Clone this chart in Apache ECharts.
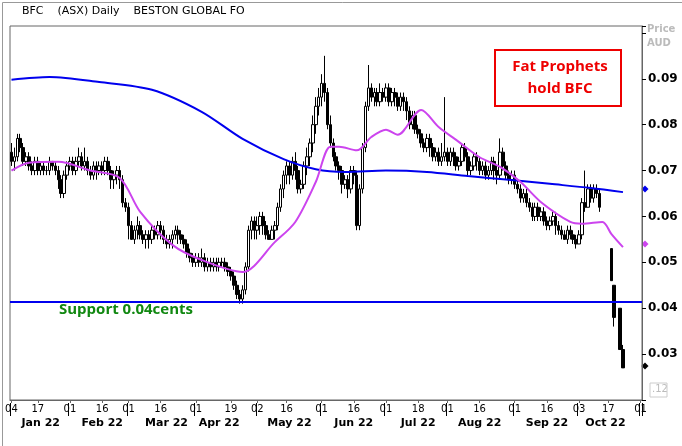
<!DOCTYPE html>
<html><head><meta charset="utf-8">
<script src="https://cdn.jsdelivr.net/npm/echarts@6/dist/echarts.min.js"></script>
<style>html,body{margin:0;padding:0;background:#fff}#c{width:682px;height:446px}</style>
</head><body><div id="c"></div>
<script>
// Daily bars [open, close, low, high] in thousandths of AUD; null = no trading
const bars = [
[74,72,71,76],[72,73,70,75],[73,77,72,78],[77,75,74,78],[75,72,71,76],[72,73,71,74],[73,71,70,74],[71,70,69,72],[70,72,69,73],[72,70,69,73],
[70,71,69,72],[71,70,69,72],[70,70,69,71],[70,72,69,73],[72,71,70,72],[71,70,69,72],[70,68,66,71],[68,65,64,69],[65,69,64,70],[69,71,68,72],
[71,72,70,73],[72,70,69,73],[70,72,69,73],[72,73,71,75],[73,71,70,74],[71,72,70,75],[72,70,69,73],[70,69,68,71],[69,71,68,72],[71,70,68,72],
[70,71,69,72],[71,70,69,72],[70,72,69,73],[72,70,69,73],[70,68,66,71],[68,69,66,70],[69,70,67,71],[70,68,66,71],[68,63,62,69],[63,62,61,64],
[62,58,55,63],[58,55,55,59],[55,57,54,58],[57,58,55,60],[58,56,55,59],[56,55,54,57],[55,56,53,57],[56,55,53,57],[55,57,54,58],[57,56,55,58],
[56,58,55,59],[58,57,55,59],[57,55,54,58],[55,54,53,56],[54,55,53,56],[55,56,53,57],[56,57,55,58],[57,56,54,58],[56,55,54,57],[55,54,53,56],
[54,52,51,55],[52,51,50,53],[51,50,49,52],[50,51,49,52],[51,50,49,52],[50,51,49,53],[51,49,48,52],[49,50,48,51],[50,49,48,51],[49,50,48,51],
[50,49,48,51],[49,50,48,51],[50,50,49,51],[50,49,48,51],[49,48,47,50],[48,47,46,49],[47,45,44,48],[45,43,42,46],[43,42,41,44],[42,44,41,45],
[44,49,43,50],[49,57,48,58],[57,59,55,60],[59,57,55,60],[57,58,55,60],[58,60,56,61],[60,58,56,61],[58,56,55,59],[56,55,55,57],[55,57,55,58],
[57,58,55,59],[58,62,57,63],[62,66,61,67],[66,69,64,70],[69,71,67,72],[71,69,67,72],[69,72,68,73],[72,70,68,74],[70,66,65,71],[66,67,65,68],
[67,71,66,72],[71,73,69,75],[73,76,71,77],[76,80,74,82],[80,84,78,86],[84,86,82,88],[86,89,84,91],[89,87,85,95],[87,80,79,88],[80,76,75,82],
[76,73,72,77],[73,71,70,74],[71,70,68,72],[70,67,65,71],[67,68,66,69],[68,66,64,69],[66,70,65,71],[70,69,67,71],[69,58,57,70],[58,66,57,67],
[66,75,65,76],[75,84,74,85],[84,88,83,93],[88,86,85,89],[86,87,84,88],[87,85,84,88],[85,87,84,89],[87,86,85,88],[86,88,85,89],[88,85,84,89],
[85,87,84,88],[87,86,84,88],[86,84,83,87],[84,86,83,87],[86,85,83,87],[85,83,81,86],[83,80,79,84],[80,82,79,83],[82,79,78,83],[79,78,77,80],
[78,76,75,79],[76,75,74,77],[75,77,74,78],[77,75,73,78],[75,73,72,76],[73,74,72,75],[74,72,71,75],[72,73,71,76],[73,74,72,86],[74,72,71,75],
[72,74,71,75],[74,73,71,75],[73,71,70,74],[71,72,70,73],[72,75,71,76],[75,73,72,76],[73,70,69,74],[70,71,69,72],[71,73,70,74],[73,72,70,74],
[72,70,69,73],[70,71,69,72],[71,69,68,72],[69,70,68,71],[70,72,69,73],[72,70,68,73],[70,69,67,71],[69,74,68,77],[74,71,70,75],[71,69,68,72],
[69,68,67,70],[68,69,67,70],[69,67,66,70],[67,66,65,68],[66,64,63,67],[64,65,63,66],[65,63,62,66],[63,62,61,64],[62,60,59,63],[60,62,59,63],
[62,60,59,63],[60,61,59,62],[61,59,58,62],[59,58,57,60],[58,59,57,60],[59,60,58,61],[60,58,56,61],[58,57,56,59],[57,56,55,58],[56,55,55,57],
[55,57,54,58],[57,56,55,58],[56,55,54,57],[55,54,53,56],[54,56,54,57],[56,63,55,64],[63,62,61,70],[62,66,62,67],[66,64,63,67],[64,66,63,67],
[66,65,64,67],[65,62,61,66],null,null,null,[53,46,46,53],[45,38,36,45],null,[40,31,31,40],[31,27,27,32]
];
// Moving averages: [day index, value in thousandths]
const maLong = [[0,89.8],[13,90.4],[30,89.3],[48,87.6],[65,82.8],[79,76.9],[93,72.5],[104,70.3],[114,69.7],[128,70.0],[142,69.7],[156,68.8],[170,68.0],[184,67.1],[198,66.2],[209,65.3]];
const maShort = [[0,70.0],[6,71.7],[16,71.9],[27,70.0],[37,68.4],[44,61.0],[55,53.8],[65,50.5],[79,47.9],[90,54.4],[97,58.8],[104,67.5],[109,75.2],[112,75.2],[118,74.4],[123,77.3],[128,78.9],[132,77.8],[140,83.2],[146,79.5],[153,76.2],[160,72.9],[167,70.8],[174,67.5],[181,63.1],[191,58.8],[195,58.4],[202,58.8],[205,56.2],[209,53.3]];
const supportLevel = 0.0415;
const dayTickDates = ['2022-01-04','2022-01-17','2022-02-01','2022-02-16','2022-03-01','2022-03-16','2022-04-01','2022-04-19','2022-05-02','2022-05-16','2022-06-01','2022-06-16','2022-07-01','2022-07-18','2022-08-01','2022-08-16','2022-09-01','2022-09-16','2022-10-03','2022-10-17','2022-11-01'];
const monthLabelDates = {'2022-01-18':'Jan 22','2022-02-16':'Feb 22','2022-03-18':'Mar 22','2022-04-13':'Apr 22','2022-05-17':'May 22','2022-06-16':'Jun 22','2022-07-18':'Jul 22','2022-08-16':'Aug 22','2022-09-16':'Sep 22','2022-10-14':'Oct 22'};

// weekday category list Jan 4 - Nov 1 2022
const days = [];
for (let d = new Date(Date.UTC(2022,0,4)); d <= new Date(Date.UTC(2022,10,1)); d.setUTCDate(d.getUTCDate()+1)) {
  const w = d.getUTCDay(); if (w===0||w===6) continue;
  days.push(d.toISOString().slice(0,10));
}
const monthStart = new Set();
for (let i=0;i<days.length;i++){ if(i===0||days[i].slice(5,7)!==days[i-1].slice(5,7)) monthStart.add(i); }

const k = bars.map(b => b ? b.map(v=>v/1000) : '-');
const toLine = a => a.map(p=>[days[p[0]], p[1]/1000]);

const chart = echarts.init(document.getElementById('c'));
const F = 'DejaVu Sans';
chart.setOption({
  animation:false,
  textStyle:{fontFamily:F},
  grid:{left:10,right:40,top:26,bottom:46,show:true,borderColor:'#666',borderWidth:1},
  xAxis:[{
    type:'category',data:days,boundaryGap:true,
    axisLine:{lineStyle:{color:'#666'}},
    axisTick:{show:true,alignWithLabel:true,length:3,interval:(i,v)=>dayTickDates.includes(v),lineStyle:{color:'#666'}},
    axisLabel:{interval:(i,v)=>dayTickDates.includes(v),formatter:v=>v.slice(8),fontSize:10,color:'#000',margin:4}
  },{
    type:'category',data:days,position:'bottom',offset:16,boundaryGap:true,
    axisLine:{show:false},
    axisTick:{show:true,inside:true,length:13,interval:i=>monthStart.has(i),lineStyle:{color:'#000'}},
    axisLabel:{interval:(i,v)=>v in monthLabelDates,formatter:v=>monthLabelDates[v]||'',fontSize:11,fontWeight:'bold',color:'#000',margin:2}
  }],
  yAxis:{type:'value',position:'right',min:0.02,max:0.1015,interval:0.01,
    splitLine:{show:false},axisLine:{show:true,lineStyle:{color:'#666'}},
    axisTick:{show:true,length:4,lineStyle:{color:'#000'}},
    axisLabel:{formatter:v=>(v>0.025&&v<0.095)?v.toFixed(2):'',fontSize:12,fontWeight:'bold',color:'#000',margin:6}},
  series:[{
    type:'candlestick',data:k,barWidth:3,
    itemStyle:{color:'#fff',color0:'#000',borderColor:'#000',borderColor0:'#000',borderWidth:1},
    markLine:{silent:true,symbol:'none',precision:4,label:{show:false},lineStyle:{color:'#0000ee',width:2,type:'solid'},data:[{yAxis:supportLevel}]}
  },{
    type:'line',data:toLine(maLong),smooth:0.3,showSymbol:false,lineStyle:{color:'#0000ee',width:2},z:3
  },{
    type:'line',data:toLine(maShort),smooth:0.3,showSymbol:false,lineStyle:{color:'#cc44ee',width:2},z:3
  }],
  graphic:[
    {type:'rect',left:0,top:0,shape:{width:681,height:445},style:{fill:'none',stroke:'#999',lineWidth:1},silent:true},
    {type:'text',x:22,y:6,style:{text:'BFC    (ASX) Daily    BESTON GLOBAL FO',fontSize:11,fill:'#000',fontFamily:F}},
    {type:'text',x:647,y:22,style:{text:'Price\nAUD',fontSize:10,fill:'#bbb',fontWeight:'bold',lineHeight:14,fontFamily:F}},
    {type:'rect',shape:{x:495,y:50,width:126,height:56},style:{fill:'#fff',stroke:'#ee0000',lineWidth:2}},
    {type:'text',x:560,y:56,style:{text:'Fat Prophets\nhold BFC',align:'center',fontSize:15,fontWeight:'bold',lineHeight:22,fill:'#ee0000',fontFamily:'Open Sans'}},
    {type:'text',x:59,y:302,style:{text:'Support 0.04cents',fontSize:15,fontWeight:'bold',fill:'#118811',fontFamily:'Open Sans'}},
    {type:'text',x:652,y:384,style:{text:'.12',fontSize:10,fill:'#bbb',fontFamily:F}},
    {type:'rect',shape:{x:650,y:383,width:17,height:14},style:{fill:'none',stroke:'#ccc'}},
    {type:'rect',x:645,y:189,rotation:Math.PI/4,shape:{x:-2.5,y:-2.5,width:5,height:5},style:{fill:'#0000ee'}},
    {type:'rect',x:645,y:244,rotation:Math.PI/4,shape:{x:-2.5,y:-2.5,width:5,height:5},style:{fill:'#cc44ee'}},
    {type:'rect',x:645,y:366,rotation:Math.PI/4,shape:{x:-2.5,y:-2.5,width:5,height:5},style:{fill:'#000'}}
  ]
});
</script></body></html>
